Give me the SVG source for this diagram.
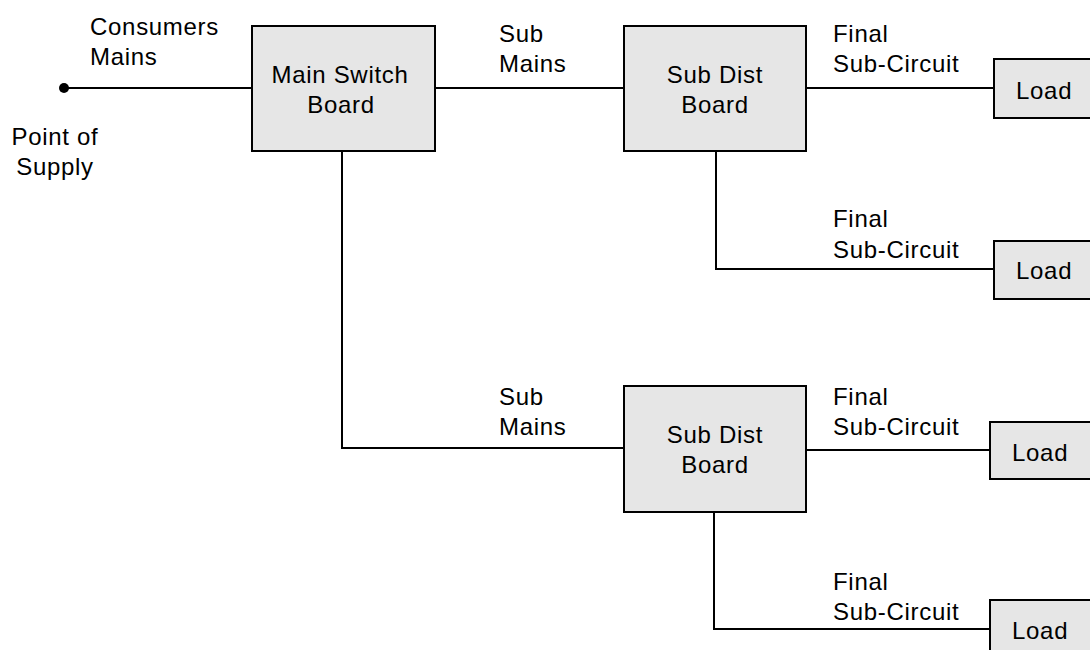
<svg xmlns="http://www.w3.org/2000/svg" width="1090" height="650" viewBox="0 0 1090 650">
<style>
.box{fill:#e6e6e6;stroke:#000;stroke-width:2}
.w{fill:none;stroke:#000;stroke-width:2}
text{font-family:"Liberation Sans",Arial,sans-serif;font-size:24px;letter-spacing:0.7px;fill:#000}
.c{text-anchor:middle}
</style>
<rect width="1090" height="650" fill="#fff"/>
<g id="connectors">
<line class="w" x1="64" y1="88" x2="252" y2="88"/>
<line class="w" x1="435" y1="88" x2="624" y2="88"/>
<line class="w" x1="806" y1="88" x2="994" y2="88"/>
<polyline class="w" points="716,151 716,269 994,269"/>
<polyline class="w" points="342,151 342,448 624,448"/>
<line class="w" x1="806" y1="450" x2="990" y2="450"/>
<polyline class="w" points="714,512 714,629 990,629"/>
<circle cx="64" cy="88" r="5" fill="#000"/>
</g>
<g id="labels">
<text x="90" y="35">Consumers</text>
<text x="90" y="65">Mains</text>
<text class="c" x="55" y="145">Point of</text>
<text class="c" x="55" y="175">Supply</text>
<text x="499" y="42">Sub</text>
<text x="499" y="72">Mains</text>
<text x="833" y="42">Final</text>
<text x="833" y="72">Sub-Circuit</text>
<text x="833" y="227">Final</text>
<text x="833" y="258">Sub-Circuit</text>
<text x="499" y="405">Sub</text>
<text x="499" y="435">Mains</text>
<text x="833" y="405">Final</text>
<text x="833" y="435">Sub-Circuit</text>
<text x="833" y="590">Final</text>
<text x="833" y="620">Sub-Circuit</text>
</g>
<g id="main-switch-board">
<rect class="box" x="252" y="26" width="183" height="125"/>
<text class="c" x="340" y="83">Main Switch</text>
<text class="c" x="341" y="113">Board</text>
</g>
<g id="sub-dist-board-1">
<rect class="box" x="624" y="26" width="182" height="125"/>
<text class="c" x="715" y="83">Sub Dist</text>
<text class="c" x="715" y="113">Board</text>
</g>
<g id="sub-dist-board-2">
<rect class="box" x="624" y="386" width="182" height="126"/>
<text class="c" x="715" y="443">Sub Dist</text>
<text class="c" x="715" y="473">Board</text>
</g>
<g id="load-1">
<rect class="box" x="994" y="59" width="110" height="59"/>
<text x="1016" y="99">Load</text>
</g>
<g id="load-2">
<rect class="box" x="994" y="241" width="110" height="58"/>
<text x="1016" y="279">Load</text>
</g>
<g id="load-3">
<rect class="box" x="990" y="422" width="114" height="57"/>
<text x="1012" y="461">Load</text>
</g>
<g id="load-4">
<rect class="box" x="990" y="600" width="114" height="60"/>
<text x="1012" y="639">Load</text>
</g>
</svg>
